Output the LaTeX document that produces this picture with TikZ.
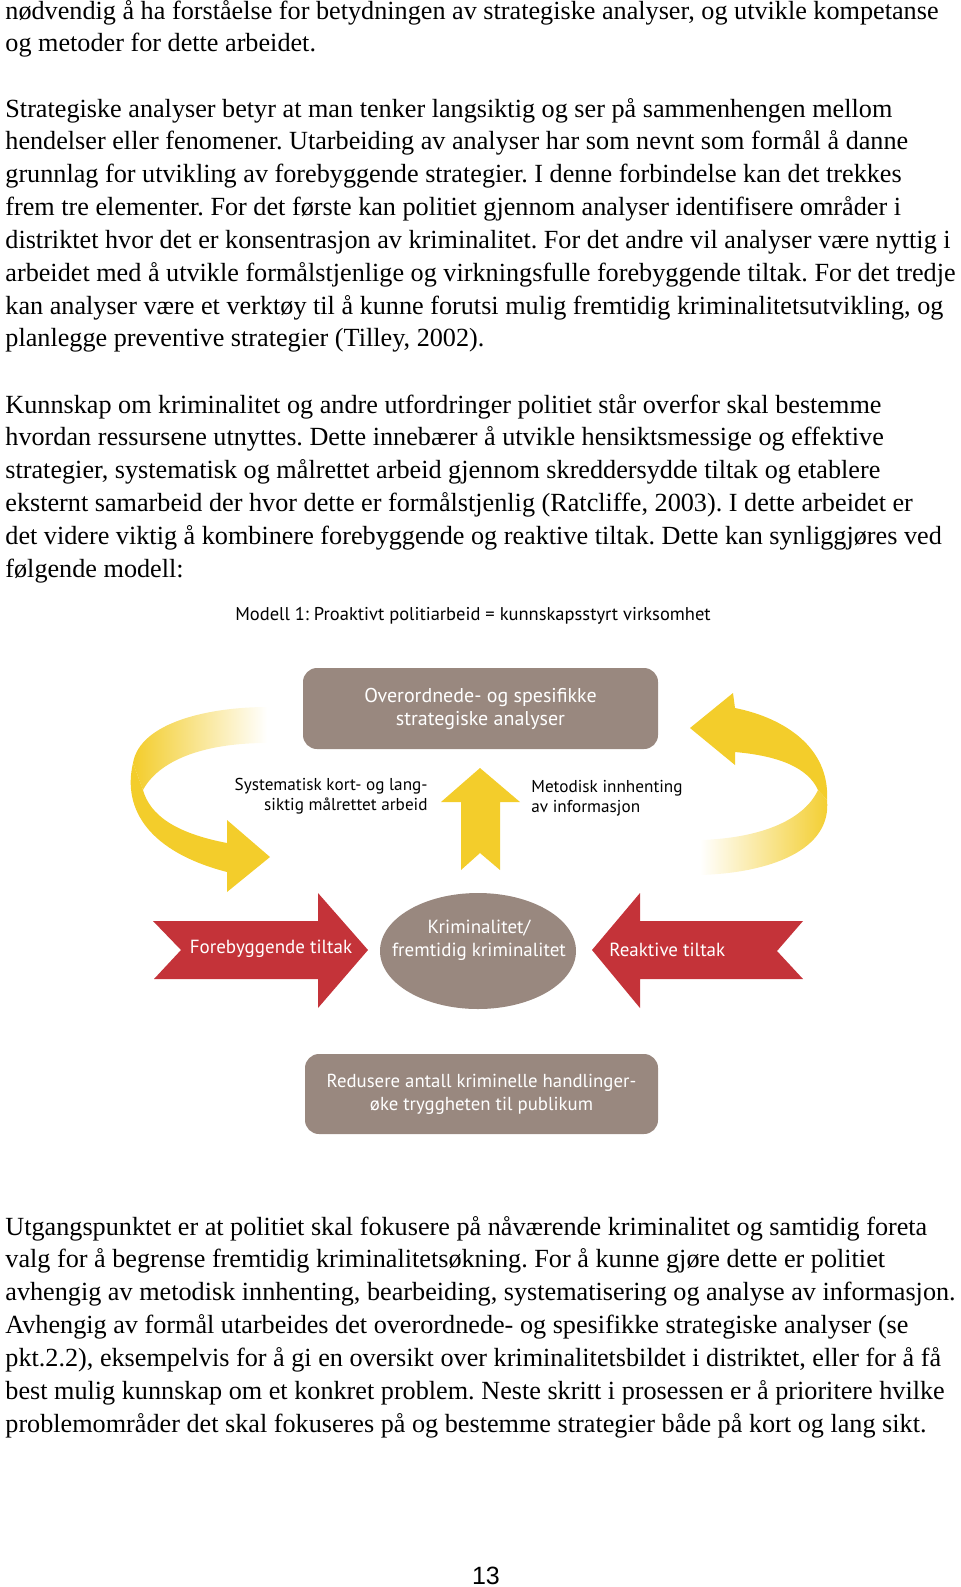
\documentclass[tikz,border=0pt]{standalone}
\usepackage{fontspec}
\setmainfont{Liberation Serif}
\newfontfamily\modelfont{PT Sans}
\newfontfamily\pagefont{Liberation Sans}
\usetikzlibrary{shapes.geometric}
\frenchspacing

\definecolor{boxBrown}{RGB}{153,136,127}
\definecolor{arrowYellow}{RGB}{243,205,43}
\definecolor{arrowRed}{RGB}{196,51,57}

\tikzset{
  bodyline/.style={anchor=base west, inner sep=0pt, font=\fontsize{13.1}{15}\selectfont},
  modelbox/.style={fill=boxBrown, rounded corners=7pt, text=white, align=center,
    font=\modelfont\fontsize{10}{11.5}\selectfont},
  modeltext/.style={inner sep=0pt, font=\modelfont\fontsize{8.6}{9.8}\selectfont},
  redtext/.style={inner sep=0pt, text=white, font=\modelfont\fontsize{9.5}{11.6}\selectfont},
}

\begin{document}
\begin{tikzpicture}[x=0.5pt, y=-0.5pt]
  \useasboundingbox (0,0) rectangle (960,1587);

  \foreach \txt [count=\i from 0] in {
    {nødvendig å ha forståelse for betydningen av strategiske analyser, og utvikle kompetanse},
    {og metoder for dette arbeidet.}}
    \node[bodyline] (TextA\i) at (5, 19+32.85*\i) {\txt};

  \foreach \txt [count=\i from 0] in {
    {Strategiske analyser betyr at man tenker langsiktig og ser på sammenhengen mellom},
    {hendelser eller fenomener. Utarbeiding av analyser har som nevnt som formål å danne},
    {grunnlag for utvikling av forebyggende strategier. I denne forbindelse kan det trekkes},
    {frem tre elementer. For det første kan politiet gjennom analyser identifisere områder i},
    {distriktet hvor det er konsentrasjon av kriminalitet. For det andre vil analyser være nyttig i},
    {arbeidet med å utvikle formålstjenlige og virkningsfulle forebyggende tiltak. For det tredje},
    {kan analyser være et verktøy til å kunne forutsi mulig fremtidig kriminalitetsutvikling, og},
    {planlegge preventive strategier (Tilley, 2002).}}
    \node[bodyline] (TextB\i) at (5, 117+32.85*\i) {\txt};

  \foreach \txt [count=\i from 0] in {
    {Kunnskap om kriminalitet og andre utfordringer politiet står overfor skal bestemme},
    {hvordan ressursene utnyttes. Dette innebærer å utvikle hensiktsmessige og effektive},
    {strategier, systematisk og målrettet arbeid gjennom skreddersydde tiltak og etablere},
    {eksternt samarbeid der hvor dette er formålstjenlig (Ratcliffe, 2003). I dette arbeidet er},
    {det videre viktig å kombinere forebyggende og reaktive tiltak. Dette kan synliggjøres ved},
    {følgende modell:}}
    \node[bodyline] (TextC\i) at (5, 413+32.85*\i) {\txt};

  \foreach \txt [count=\i from 0] in {
    {Utgangspunktet er at politiet skal fokusere på nåværende kriminalitet og samtidig foreta},
    {valg for å begrense fremtidig kriminalitetsøkning. For å kunne gjøre dette er politiet},
    {avhengig av metodisk innhenting, bearbeiding, systematisering og analyse av informasjon.},
    {Avhengig av formål utarbeides det overordnede- og spesifikke strategiske analyser (se},
    {pkt.2.2), eksempelvis for å gi en oversikt over kriminalitetsbildet i distriktet, eller for å få},
    {best mulig kunnskap om et konkret problem. Neste skritt i prosessen er å prioritere hvilke},
    {problemområder det skal fokuseres på og bestemme strategier både på kort og lang sikt.}}
    \node[bodyline] (TextD\i) at (5, 1235+32.85*\i) {\txt};

  \node[modeltext, font=\modelfont\fontsize{9.25}{10}\selectfont] (Title) at (473,616)
    {Modell 1: Proaktivt politiarbeid = kunnskapsstyrt virksomhet};

  \shade[left color=arrowYellow, right color=white]
    (267,707) .. controls (210,707) and (140,722) .. (133,763)
    -- (143,790) .. controls (158,762) and (200,743) .. (267,743)
    -- cycle
  ;
  \fill[arrowYellow]
    (133,763) .. controls (122,810) and (150,852) .. (227,872)
    -- (227,892) -- (270,857) -- (227,820) -- (227,843)
    .. controls (175,833) and (150,815) .. (143,790)
    -- cycle
  ;
  \fill[arrowYellow]
    (735,708) .. controls (785,718) and (830,748) .. (827,800)
    -- (818,790) .. controls (808,768) and (780,756) .. (735,752)
    -- (735,765) -- (690,728) -- (733,693)
    -- cycle
  ;
  \shade[left color=white, right color=arrowYellow]
    (827,800) .. controls (832,850) and (770,873) .. (700,875)
    -- (700,840) .. controls (765,838) and (805,818) .. (818,790)
    -- cycle
  ;
  \fill[arrowYellow]
    (480,768) -- (520,802) -- (500,802) -- (500,870) -- (480,853)
    -- (461,870) -- (461,802) -- (441,802)
    -- cycle
  ;

  \node[modelbox, minimum width=177.5pt, minimum height=40.5pt] (Analyses) at (480.5,708.5)
    {Overordnede- og spesifikke\\strategiske analyser};

  \node[modeltext, align=right, anchor=east] (Systematic) at (428,796)
    {Systematisk kort- og lang-\\siktig målrettet arbeid};
  \node[modeltext, align=left, anchor=west] (Collect) at (531,798)
    {Metodisk innhenting\\av informasjon};

  \fill[arrowRed]
    (153,921) -- (318,921) -- (318,893) -- (368,950) -- (318,1008)
    -- (318,979) -- (154,979) -- (181,950)
    -- cycle
  ;
  \fill[arrowRed]
    (592,950) -- (640,893) -- (640,921) -- (803,921) -- (777,951)
    -- (803,979) -- (640,979) -- (640,1008)
    -- cycle
  ;
  \node[redtext] (Preventive) at (271,949) {Forebyggende tiltak};
  \node[redtext, anchor=west] (Reactive) at (609,950) {Reaktive tiltak};

  \node[ellipse, fill=boxBrown, minimum width=98pt, minimum height=58pt] (Crime) at (478,951) {};
  \node[redtext, align=center] (CrimeText) at (479,940) {Kriminalitet/\\fremtidig kriminalitet};

  \node[modelbox, minimum width=176.5pt, minimum height=40pt,
    font=\modelfont\fontsize{9.4}{11.5}\selectfont] (Reduce) at (481.5,1094)
    {Redusere antall kriminelle handlinger-\\øke tryggheten til publikum};

  \node[anchor=base, inner sep=0pt, font=\pagefont\fontsize{12.5}{14}\selectfont] (PageNo) at (486,1584) {13};
\end{tikzpicture}
\end{document}
